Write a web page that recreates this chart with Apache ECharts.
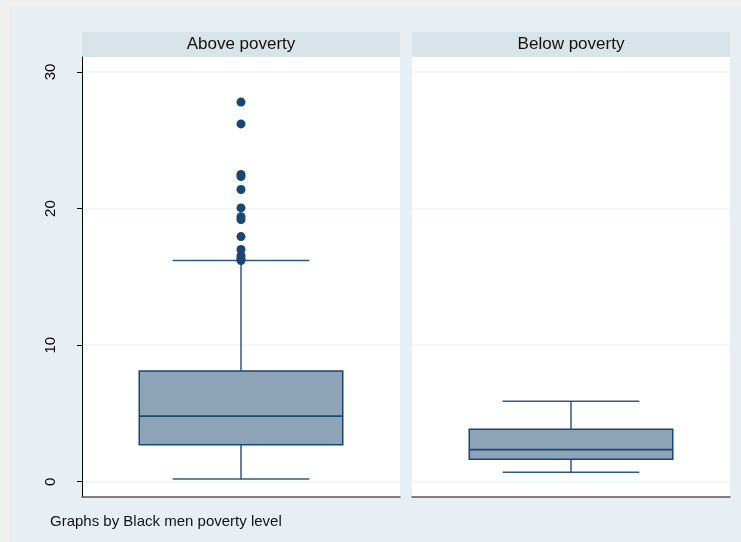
<!DOCTYPE html>
<html>
<head>
<meta charset="utf-8">
<script src="https://cdn.jsdelivr.net/npm/echarts@6/dist/echarts.min.js"></script>
<style>
  html, body { margin: 0; padding: 0; background: #f0f0f0; }
  #chart { width: 741px; height: 542px; }
</style>
</head>
<body>
<div id="chart"></div>
<script>
// Panel labels (one per poverty group)
const panels = ['Above poverty', 'Below poverty'];
// Box statistics per panel: [lower whisker, Q1, median, Q3, upper whisker]
const aboveStats = [0.2, 2.7, 4.8, 8.1, 16.2];
const belowStats = [0.7, 1.65, 2.35, 3.85, 5.9];
// Outside values for the "Above poverty" group
const aboveOutliers = [27.8, 26.2, 22.5, 22.35, 21.4, 20.05, 19.4, 19.2, 17.95, 17.0, 16.55, 16.35, 16.2];
const belowOutliers = [];
// Y axis tick labels
const yTicks = [0, 10, 20, 30];
const footnote = 'Graphs by Black men poverty level';

const NAVY = '#1a476f';
const FONT = '"Liberation Sans", Arial, sans-serif';

const chart = echarts.init(document.getElementById('chart'), null, { renderer: 'canvas' });

function boxRender(params, api) {
  const x = api.value(0);
  const lo = api.coord([x, api.value(1)]);
  const q1 = api.coord([x, api.value(2)]);
  const md = api.coord([x, api.value(3)]);
  const q3 = api.coord([x, api.value(4)]);
  const hi = api.coord([x, api.value(5)]);
  const band = api.size([1, 0])[0];
  const bw = band * 0.64 / 2;
  const cw = band * 0.43 / 2;
  const cx = lo[0];
  const line = (x1, y1, x2, y2) => ({
    type: 'line',
    shape: { x1, y1, x2, y2 },
    style: { stroke: NAVY, lineWidth: 1.5, opacity: 0.9 }
  });
  return {
    type: 'group',
    children: [
      line(cx, hi[1], cx, q3[1]),
      line(cx, q1[1], cx, lo[1]),
      line(cx - cw, hi[1], cx + cw, hi[1]),
      line(cx - cw, lo[1], cx + cw, lo[1]),
      {
        type: 'rect',
        shape: { x: cx - bw, y: q3[1], width: bw * 2, height: q1[1] - q3[1] },
        style: { fill: '#8da3b8', stroke: NAVY, lineWidth: 1.5 }
      },
      {
        type: 'line',
        shape: { x1: cx - bw, y1: md[1], x2: cx + bw, y2: md[1] },
        style: { stroke: NAVY, lineWidth: 1.8 }
      }
    ]
  };
}

const yMin = -1.12, yMax = 31.1;

function yAxis(gridIndex, showLabels) {
  return {
    type: 'value',
    gridIndex,
    min: yMin,
    max: yMax,
    axisLine: { show: showLabels, lineStyle: { color: '#000', width: 1 } },
    axisTick: { show: showLabels, length: 5, customValues: yTicks, lineStyle: { color: '#000' } },
    axisLabel: {
      show: showLabels,
      customValues: yTicks,
      rotate: 90,
      margin: 24,
      fontSize: 15,
      color: '#000',
      fontFamily: FONT
    },
    splitLine: { show: true, lineStyle: { color: '#edf3f4', width: 1.5 } }
  };
}

function xAxis(gridIndex, name) {
  return {
    type: 'category',
    gridIndex,
    data: [name],
    axisLine: { show: true, onZero: false, lineStyle: { color: '#555', width: 1.5 } },
    axisTick: { show: false },
    axisLabel: { show: false },
    splitLine: { show: false }
  };
}

const gridBase = { top: 57, height: 440, width: 318, show: true, backgroundColor: '#ffffff', borderWidth: 0, containLabel: false };

chart.setOption({
  backgroundColor: '#f0f0f0',
  animation: false,
  graphic: [
    { type: 'rect', z: -10, shape: { x: 9, y: 7, width: 732, height: 535 }, style: { fill: '#e8eff2' } },
    { type: 'rect', z: -5, shape: { x: 82, y: 32, width: 318, height: 25 }, style: { fill: '#d9e4ea' } },
    { type: 'rect', z: -5, shape: { x: 412, y: 32, width: 318, height: 25 }, style: { fill: '#d9e4ea' } }
  ],
  title: [
    { text: panels[0], left: 241, top: 44.5, textAlign: 'center', textVerticalAlign: 'middle', padding: 0,
      textStyle: { fontSize: 17, fontWeight: 'normal', color: '#111', fontFamily: FONT } },
    { text: panels[1], left: 571, top: 44.5, textAlign: 'center', textVerticalAlign: 'middle', padding: 0,
      textStyle: { fontSize: 17, fontWeight: 'normal', color: '#111', fontFamily: FONT } },
    { text: footnote, left: 50, top: 514, padding: 0,
      textStyle: { fontSize: 15, fontWeight: 'normal', color: '#111', fontFamily: FONT } }
  ],
  grid: [
    Object.assign({ left: 82 }, gridBase),
    Object.assign({ left: 412 }, gridBase)
  ],
  xAxis: [xAxis(0, panels[0]), xAxis(1, panels[1])],
  yAxis: [yAxis(0, true), yAxis(1, false)],
  series: [
    {
      type: 'custom', xAxisIndex: 0, yAxisIndex: 0,
      renderItem: boxRender,
      data: [[0].concat(aboveStats)],
      z: 2
    },
    {
      type: 'custom', xAxisIndex: 1, yAxisIndex: 1,
      renderItem: boxRender,
      data: [[0].concat(belowStats)],
      z: 2
    },
    {
      type: 'scatter', xAxisIndex: 0, yAxisIndex: 0,
      symbolSize: 9,
      itemStyle: { color: NAVY, opacity: 1 },
      data: aboveOutliers.map(v => [0, v]),
      z: 3
    },
    {
      type: 'scatter', xAxisIndex: 1, yAxisIndex: 1,
      symbolSize: 9,
      itemStyle: { color: NAVY, opacity: 1 },
      data: belowOutliers.map(v => [0, v]),
      z: 3
    }
  ]
});
</script>
</body>
</html>
